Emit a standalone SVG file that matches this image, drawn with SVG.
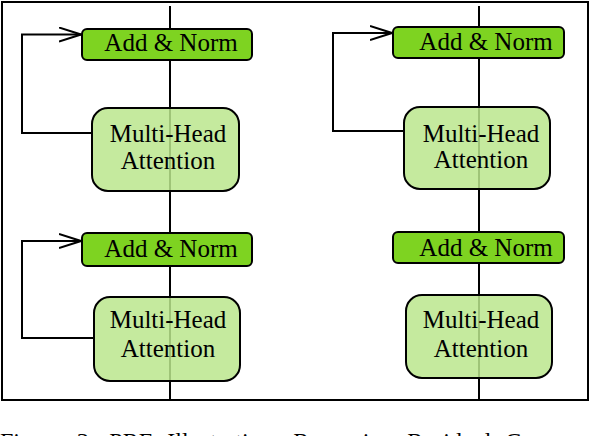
<svg xmlns="http://www.w3.org/2000/svg" width="590" height="436" viewBox="0 0 590 436">
<defs>
<style>
.frame{fill:none;stroke:#000;stroke-width:2}
.line{fill:none;stroke:#000;stroke-width:2}
.norm{fill:#7ED321;stroke:#000;stroke-width:2}
.mha{fill:#BBE68D;fill-opacity:0.85;stroke:#000;stroke-width:2}
.t{font-family:'Liberation Serif','Times New Roman',serif;font-size:25px;fill:#000;text-anchor:middle}
.cap{font-family:'Liberation Serif','Times New Roman',serif;font-size:24px;fill:#000}
</style>
<marker id="arr" markerWidth="24" markerHeight="16" refX="22" refY="8" orient="auto" markerUnits="userSpaceOnUse">
<path d="M0,1 L22,8 L0,15" fill="none" stroke="#000" stroke-width="2"/>
</marker>
</defs>
<rect width="590" height="436" fill="#fff"/>
<rect class="frame" x="2" y="2" width="586" height="398"/>
<g id="connectors">
<line class="line" x1="170" y1="6" x2="170" y2="400"/>
<line class="line" x1="479" y1="6" x2="479" y2="400"/>
<polyline class="line" points="92,133 22,133 22,34.5 81,34.5" marker-end="url(#arr)"/>
<polyline class="line" points="94,338 22,338 22,241 81,241" marker-end="url(#arr)"/>
<polyline class="line" points="404,131 333,131 333,33 392,33" marker-end="url(#arr)"/>
</g>
<g font-family="Liberation Serif, Times New Roman, serif">
<g id="norm1"><rect class="norm" x="82" y="29" width="170" height="31" rx="5"/><text class="t" x="171" y="51">Add &amp; Norm</text></g>
<g id="mha1"><rect class="mha" x="92" y="108" width="147" height="83" rx="16"/><text class="t" x="168" y="142">Multi-Head</text><text class="t" x="168" y="169">Attention</text></g>
<g id="norm2"><rect class="norm" x="82" y="233" width="170" height="33" rx="5"/><text class="t" x="171" y="257">Add &amp; Norm</text></g>
<g id="mha2"><rect class="mha" x="94" y="297" width="146" height="84" rx="16"/><text class="t" x="168" y="328">Multi-Head</text><text class="t" x="168" y="357">Attention</text></g>
<g id="norm3"><rect class="norm" x="393" y="27" width="171" height="31" rx="5"/><text class="t" x="486" y="50">Add &amp; Norm</text></g>
<g id="mha3"><rect class="mha" x="404" y="107" width="146" height="82" rx="16"/><text class="t" x="481" y="142">Multi-Head</text><text class="t" x="481" y="168">Attention</text></g>
<g id="norm4"><rect class="norm" x="393" y="232" width="171" height="31" rx="5"/><text class="t" x="486" y="256">Add &amp; Norm</text></g>
<g id="mha4"><rect class="mha" x="406" y="295" width="146" height="83" rx="16"/><text class="t" x="481" y="328">Multi-Head</text><text class="t" x="481" y="357">Attention</text></g>
<text class="cap" x="0" y="449" word-spacing="8">Figure 3: PRE Illustration: Removing Residual C</text>
</g>
</svg>
